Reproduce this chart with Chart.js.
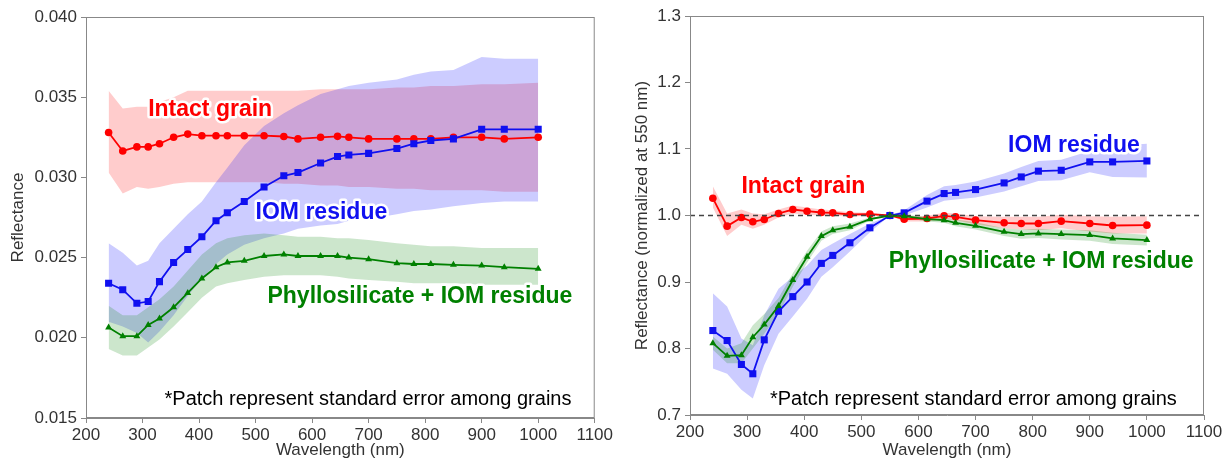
<!DOCTYPE html>
<html>
<head>
<meta charset="utf-8">
<script src="https://cdn.jsdelivr.net/npm/chart.js@4.4.1/dist/chart.umd.min.js"></script>
<style>
  html, body { margin: 0; padding: 0; background: #fff; }
  #wrap { position: relative; width: 1231px; height: 463px; }
  canvas { position: absolute; top: 0; }
  #left { left: 0; }
  #right { left: 615px; }
</style>
</head>
<body>
<div id="wrap">
  <canvas id="left" width="615" height="463"></canvas>
  <canvas id="right" width="616" height="463"></canvas>
</div>
<script>
// wavelengths (nm), shared by every series
const wl = [240, 265, 290, 310, 330, 355, 380, 405, 430, 450, 480, 515, 550, 575, 615, 645, 665, 700, 750, 780, 810, 850, 900, 940, 1000];
const xTicks = [200, 300, 400, 500, 600, 700, 800, 900, 1000, 1100];
const leftYTicks = [0.015, 0.020, 0.025, 0.030, 0.035, 0.040];
const rightYTicks = [0.7, 0.8, 0.9, 1.0, 1.1, 1.2, 1.3];

// left panel: absolute reflectance
const intactRefl = [0.0328, 0.03165, 0.0319, 0.0319, 0.0321, 0.0325, 0.0327, 0.0326, 0.0326, 0.0326, 0.0326, 0.0326, 0.03255, 0.0324, 0.0325, 0.03256, 0.0325, 0.0324, 0.0324, 0.0324, 0.0324, 0.0325, 0.0325, 0.0324, 0.0325];
const intactHi = [0.0354, 0.0343, 0.0344, 0.0344, 0.0347, 0.0350, 0.0354, 0.0354, 0.0354, 0.0354, 0.0354, 0.0354, 0.0354, 0.0354, 0.0355, 0.0355, 0.0355, 0.0355, 0.0356, 0.0356, 0.0357, 0.0357, 0.0358, 0.0358, 0.0359];
const intactLo = [0.0303, 0.0290, 0.0294, 0.0293, 0.0294, 0.0296, 0.0297, 0.0297, 0.0297, 0.0297, 0.0297, 0.0297, 0.0296, 0.0296, 0.0295, 0.0295, 0.0294, 0.0294, 0.0293, 0.0293, 0.0292, 0.0292, 0.0292, 0.0291, 0.0291];

const iomRefl = [0.0234, 0.0230, 0.02215, 0.02226, 0.0235, 0.0247, 0.0255, 0.0263, 0.0273, 0.0278, 0.0285, 0.0294, 0.0301, 0.0303, 0.0309, 0.0313, 0.0314, 0.0315, 0.0318, 0.0321, 0.0323, 0.0324, 0.0330, 0.0330, 0.0330];
const iomHi = [0.0259, 0.0253, 0.0245, 0.0248, 0.0259, 0.0268, 0.0277, 0.0285, 0.0297, 0.0306, 0.0320, 0.0332, 0.0340, 0.0345, 0.0352, 0.0355, 0.0357, 0.0359, 0.0361, 0.0364, 0.0366, 0.0367, 0.0375, 0.0374, 0.0374];
const iomLo = [0.0210, 0.0207, 0.0203, 0.0197, 0.0204, 0.0214, 0.0226, 0.0237, 0.0246, 0.0252, 0.0258, 0.0262, 0.0265, 0.0268, 0.0270, 0.0271, 0.0273, 0.0274, 0.0277, 0.0279, 0.0280, 0.0282, 0.0284, 0.0285, 0.0285];

const phylRefl = [0.02064, 0.0201, 0.0201, 0.0208, 0.0212, 0.0219, 0.0228, 0.0237, 0.0244, 0.0247, 0.0248, 0.0251, 0.0252, 0.0251, 0.0251, 0.0251, 0.0250, 0.0249, 0.02465, 0.0246, 0.0246, 0.02455, 0.0245, 0.0244, 0.0243];
const phylHi = [0.0220, 0.0214, 0.0214, 0.0219, 0.0224, 0.0232, 0.0242, 0.0252, 0.0259, 0.0262, 0.0264, 0.0265, 0.0264, 0.0263, 0.0263, 0.0262, 0.0262, 0.0261, 0.0259, 0.0258, 0.0257, 0.0257, 0.0256, 0.0256, 0.0256];
const phylLo = [0.0193, 0.0189, 0.0189, 0.0194, 0.0199, 0.0207, 0.0216, 0.0225, 0.0232, 0.0234, 0.0236, 0.0238, 0.0239, 0.0239, 0.0239, 0.0238, 0.0237, 0.0236, 0.0235, 0.0234, 0.0234, 0.0234, 0.0233, 0.0233, 0.0233];

// right panel: normalized at 550 nm
const intactNorm = [1.026, 0.984, 0.997, 0.9905, 0.994, 1.003, 1.009, 1.0065, 1.0045, 1.004, 1.0015, 1.002, 1.000, 0.9945, 0.9955, 0.9995, 0.998, 0.993, 0.989, 0.988, 0.988, 0.9915, 0.988, 0.985, 0.9855];
const intactNormHi = [1.044, 1.003, 1.009, 1.003, 1.002, 1.009, 1.015, 1.012, 1.009, 1.008, 1.005, 1.004, 1.000, 0.998, 0.9995, 1.004, 1.003, 0.999, 0.998, 0.998, 0.998, 1.001, 0.999, 0.998, 0.999];
const intactNormLo = [1.012, 0.969, 0.986, 0.980, 0.986, 0.997, 1.003, 1.001, 1.000, 1.000, 0.998, 1.000, 1.000, 0.991, 0.991, 0.995, 0.993, 0.987, 0.981, 0.979, 0.978, 0.981, 0.976, 0.973, 0.973];

const iomNorm = [0.827, 0.812, 0.776, 0.762, 0.813, 0.856, 0.878, 0.900, 0.928, 0.940, 0.959, 0.9815, 1.000, 1.004, 1.0216, 1.033, 1.0347, 1.039, 1.049, 1.058, 1.0667, 1.068, 1.0806, 1.0806, 1.082];
const iomNormHi = [0.883, 0.863, 0.815, 0.805, 0.850, 0.890, 0.908, 0.925, 0.948, 0.958, 0.972, 0.988, 1.000, 1.008, 1.031, 1.044, 1.046, 1.051, 1.063, 1.073, 1.082, 1.084, 1.097, 1.105, 1.108];
const iomNormLo = [0.770, 0.762, 0.738, 0.725, 0.775, 0.822, 0.848, 0.875, 0.908, 0.922, 0.946, 0.975, 1.000, 1.000, 1.012, 1.022, 1.024, 1.027, 1.036, 1.044, 1.052, 1.053, 1.065, 1.058, 1.057];

const phylNorm = [0.808, 0.789, 0.790, 0.817, 0.836, 0.864, 0.903, 0.938, 0.969, 0.978, 0.983, 0.9945, 1.000, 0.999, 0.9945, 0.993, 0.989, 0.9845, 0.9755, 0.972, 0.973, 0.972, 0.9705, 0.9655, 0.963];
const phylNormHi = [0.818, 0.800, 0.808, 0.835, 0.852, 0.876, 0.913, 0.947, 0.976, 0.984, 0.988, 0.997, 1.000, 1.001, 0.998, 0.997, 0.994, 0.990, 0.981, 0.979, 0.980, 0.979, 0.978, 0.974, 0.971];
const phylNormLo = [0.798, 0.778, 0.778, 0.800, 0.822, 0.852, 0.893, 0.929, 0.962, 0.972, 0.978, 0.992, 1.000, 0.997, 0.991, 0.989, 0.984, 0.979, 0.969, 0.965, 0.966, 0.964, 0.962, 0.957, 0.955];

const normLevel = 1.0;

const FONT = "'Liberation Sans', Arial, sans-serif";
const RED = '#ff0000', BLUE = '#1010f0', GREEN = '#008000';
const NOTE = '*Patch represent standard error among grains';

// text placed in data coordinates: [text, wavelength, value, colour, bold]
const leftNotes = [
  ['Intact grain', 310, 0.0338, RED, true],
  ['IOM residue', 500, 0.0274, BLUE, true],
  ['Phyllosilicate + IOM residue', 521, 0.0222, GREEN, true],
  [NOTE, 339, 0.0158, '#000', false],
];
const rightNotes = [
  ['Intact grain', 290, 1.034, RED, true],
  ['IOM residue', 757, 1.0956, BLUE, true],
  ['Phyllosilicate + IOM residue', 548, 0.9204, GREEN, true],
  [NOTE, 340, 0.715, '#000', false],
];

function pts(ys) {
  return wl.map((x, i) => ({ x, y: ys[i] }));
}

function band(hi, lo, fillColor, order) {
  return [
    { data: pts(hi), borderWidth: 0, pointRadius: 0, fill: '+1', backgroundColor: fillColor, order },
    { data: pts(lo), borderWidth: 0, pointRadius: 0, fill: false, order },
  ];
}

function line(ys, color, style, radius, order) {
  return {
    data: pts(ys),
    borderColor: color,
    backgroundColor: color,
    borderWidth: 1.8,
    pointStyle: style,
    pointRadius: radius,
    pointBorderWidth: 0,
    fill: false,
    order,
  };
}

const framePlugin = {
  id: 'frame',
  afterDatasetsDraw(chart) {
    const a = chart.chartArea;
    const ctx = chart.ctx;
    ctx.save();
    ctx.strokeStyle = '#888';
    ctx.lineWidth = 1;
    ctx.strokeRect(a.left + 0.5, a.top + 0.5, a.right - a.left - 1, a.bottom - a.top - 1);
    const notes = chart.options.plugins.frame.notes;
    const xs = chart.scales.x, ys = chart.scales.y;
    ctx.textBaseline = 'alphabetic';
    ctx.textAlign = 'left';
    ctx.lineJoin = 'round';
    for (const [text, x, y, color, bold] of notes) {
      const px = xs.getPixelForValue(x);
      const py = ys.getPixelForValue(y);
      ctx.font = bold ? `bold 23px ${FONT}` : `20px ${FONT}`;
      if (bold) {
        ctx.strokeStyle = '#fff';
        ctx.lineWidth = 5;
        ctx.strokeText(text, px, py);
      }
      ctx.fillStyle = color;
      ctx.fillText(text, px, py);
    }
    ctx.restore();
  }
};

function makeChart(id, datasets, cfg) {
  const ctx = document.getElementById(id).getContext('2d');
  return new Chart(ctx, {
    type: 'line',
    data: { datasets },
    plugins: [framePlugin],
    options: {
      responsive: false,
      animation: false,
      events: [],
      layout: { padding: { top: cfg.top, right: cfg.right, left: 0, bottom: 0 } },
      plugins: {
        legend: { display: false },
        tooltip: { enabled: false },
        frame: { notes: cfg.notes },
      },
      scales: {
        x: {
          type: 'linear',
          min: 200,
          max: 1100,
          afterBuildTicks: (s) => { s.ticks = xTicks.map(v => ({ value: v })); },
          afterFit: (s) => { s.height = cfg.xh; },
          ticks: { color: '#333', font: { family: FONT, size: 17 }, padding: 2, maxRotation: 0, callback: (v) => String(v) },
          grid: { drawOnChartArea: false, drawTicks: true, tickLength: 5, color: '#888' },
          border: { display: true, color: '#888' },
          title: { display: true, text: 'Wavelength (nm)', color: '#333', font: { family: FONT, size: 17 }, padding: { top: 0, bottom: 2 } },
        },
        y: {
          type: 'linear',
          min: cfg.yTicks[0],
          max: cfg.yTicks[cfg.yTicks.length - 1],
          afterBuildTicks: (s) => { s.ticks = cfg.yTicks.map(v => ({ value: v })); },
          afterFit: (s) => { s.width = cfg.yw; },
          ticks: { color: '#333', font: { family: FONT, size: 17 }, padding: 4, callback: (v) => v.toFixed(cfg.dec) },
          grid: { drawOnChartArea: false, drawTicks: true, tickLength: 5, color: '#888' },
          border: { display: true, color: '#888' },
          title: { display: true, text: cfg.yTitle, color: '#333', font: { family: FONT, size: 17 }, padding: { top: cfg.ytPad, bottom: 0 } },
        },
      },
    },
  });
}

makeChart('left', [
  line(phylRefl, GREEN, 'triangle', 4, 1),
  line(iomRefl, BLUE, 'rect', 5, 2),
  line(intactRefl, RED, 'circle', 3.8, 3),
  ...band(phylHi, phylLo, 'rgba(0,128,0,0.2)', 8),
  ...band(iomHi, iomLo, 'rgba(0,0,255,0.2)', 9),
  ...band(intactHi, intactLo, 'rgba(255,0,0,0.2)', 10),
], { top: 17, right: 17, xh: 45, yw: 86, yTicks: leftYTicks, dec: 3, yTitle: 'Reflectance', ytPad: 8, notes: leftNotes });

makeChart('right', [
  {
    data: [{ x: 200, y: normLevel }, { x: 1100, y: normLevel }],
    borderColor: '#444', borderWidth: 1.5, borderDash: [5, 4], pointRadius: 0, fill: false, order: 0,
  },
  line(phylNorm, GREEN, 'triangle', 4, 1),
  line(iomNorm, BLUE, 'rect', 5, 2),
  line(intactNorm, RED, 'circle', 3.8, 3),
  ...band(phylNormHi, phylNormLo, 'rgba(0,128,0,0.2)', 8),
  ...band(iomNormHi, iomNormLo, 'rgba(0,0,255,0.2)', 9),
  ...band(intactNormHi, intactNormLo, 'rgba(255,0,0,0.2)', 10),
], { top: 16, right: 27, xh: 48, yw: 75, yTicks: rightYTicks, dec: 1, yTitle: 'Reflectance (normalized at 550 nm)', ytPad: 17, notes: rightNotes });
</script>
</body>
</html>
